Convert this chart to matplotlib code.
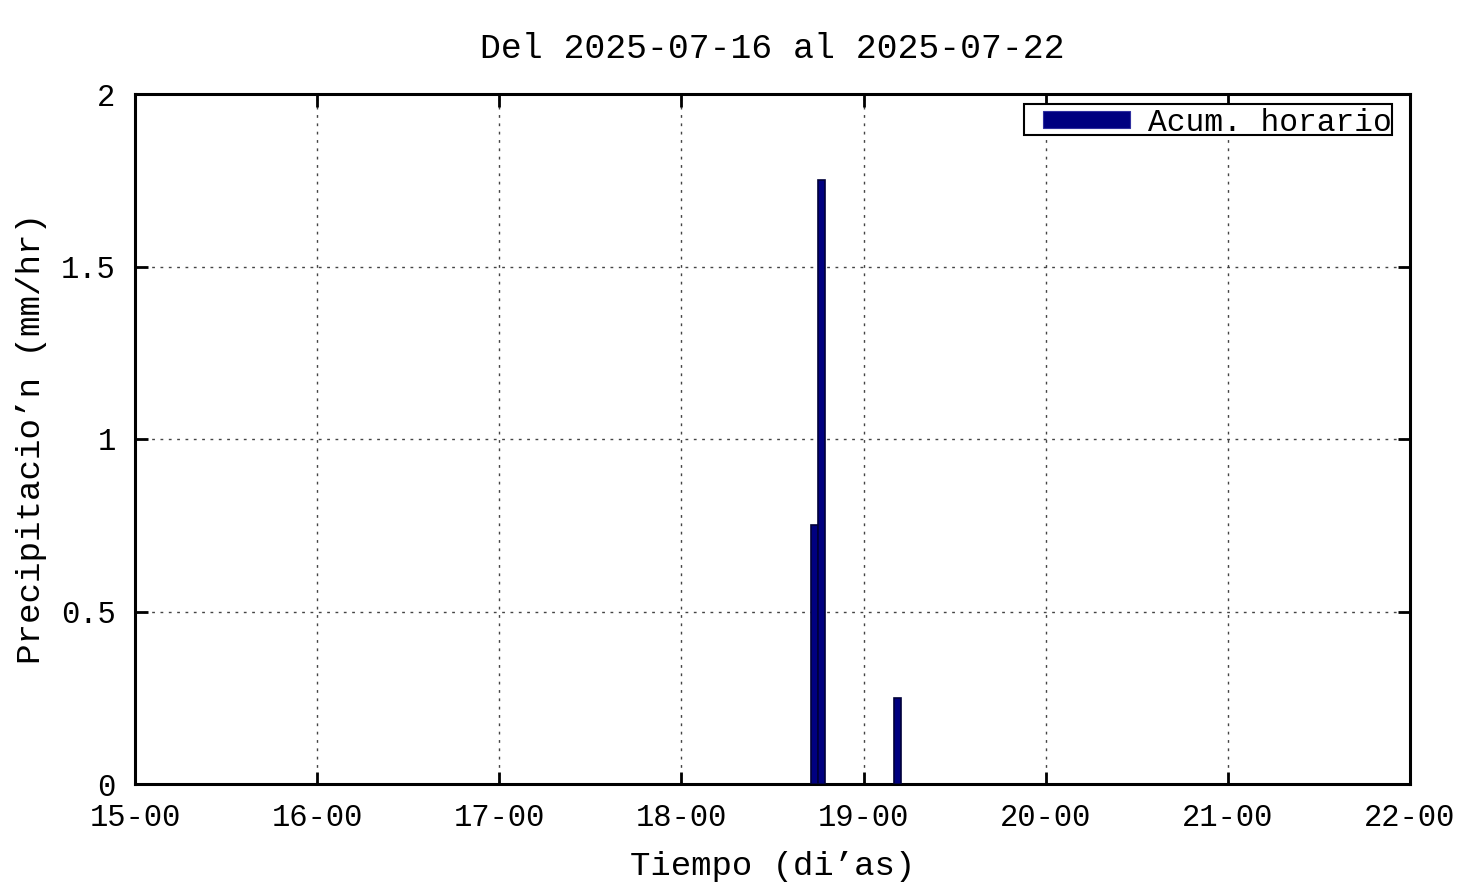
import datetime as dt

import matplotlib
matplotlib.use("Agg")
import matplotlib.pyplot as plt
import matplotlib.dates as mdates
from matplotlib.patches import Rectangle

# --- data ------------------------------------------------------------------
HOURS = ["2025-07-18 17:30", "2025-07-18 18:30", "2025-07-19 04:30"]
RAIN = [0.75, 1.75, 0.25]          # mm/hr

TITLE = "Del 2025-07-16 al 2025-07-22"
XLABEL = "Tiempo (di’as)"
YLABEL = "Precipitacio’n (mm/hr)"
LEGEND = "Acum. horario"
YTICKS = [0, 0.5, 1, 1.5, 2]
YTICK_LABELS = ["0", "0.5", "1", "1.5", "2"]

# --- style -----------------------------------------------------------------
FONT = ["Liberation Mono", "DejaVu Sans Mono"]
BAR_FILL = "#000080"
BAR_EDGE = "#00003a"

plt.rcParams["font.family"] = FONT

fig = plt.figure(figsize=(14.76, 8.85), dpi=100)
ax = fig.add_axes([135 / 1476, 1 - 784 / 885, 1275 / 1476, 690 / 885])

x = [dt.datetime.strptime(h, "%Y-%m-%d %H:%M") for h in HOURS]
ax.bar(x, RAIN, width=0.88 / 24, color=BAR_FILL, edgecolor=BAR_EDGE,
       linewidth=1.2, zorder=3)

ax.set_xlim(dt.datetime(2025, 7, 15), dt.datetime(2025, 7, 22))
ax.set_ylim(0, 2)
ax.xaxis.set_major_locator(mdates.DayLocator())
ax.xaxis.set_major_formatter(mdates.DateFormatter("%d-%H"))
ax.set_yticks(YTICKS)
ax.set_yticklabels(YTICK_LABELS)

ax.grid(True, color="#444444", linestyle=(0, (2, 4)), linewidth=1)
ax.tick_params(direction="in", length=9, width=2, labelsize=22, pad=14,
               top=True, right=True, colors="black")
ax.tick_params(axis="y", pad=14)
for s in ax.spines.values():
    s.set_linewidth(2.2)

ax.set_title(TITLE, fontsize=25, pad=26)
ax.set_xlabel(XLABEL, fontsize=24.5, labelpad=12.5)
ax.set_ylabel(YLABEL, fontsize=24.7, labelpad=10)

# legend box drawn in axes coordinates (gnuplot-like key)
ax.add_patch(Rectangle((0.6973, 0.9406), 0.2886, 0.0449, transform=ax.transAxes,
                       facecolor="white", edgecolor="black", linewidth=1.5,
                       zorder=5))
ax.add_patch(Rectangle((0.7122, 0.9507), 0.0682, 0.0247, transform=ax.transAxes,
                       facecolor=BAR_FILL, edgecolor="#3030a0", linewidth=0.8,
                       zorder=6))
ax.text(0.7945, 0.9575, LEGEND, transform=ax.transAxes, ha="left",
        va="center", fontsize=22.5, zorder=6)

fig.savefig("out.png", dpi=100)
